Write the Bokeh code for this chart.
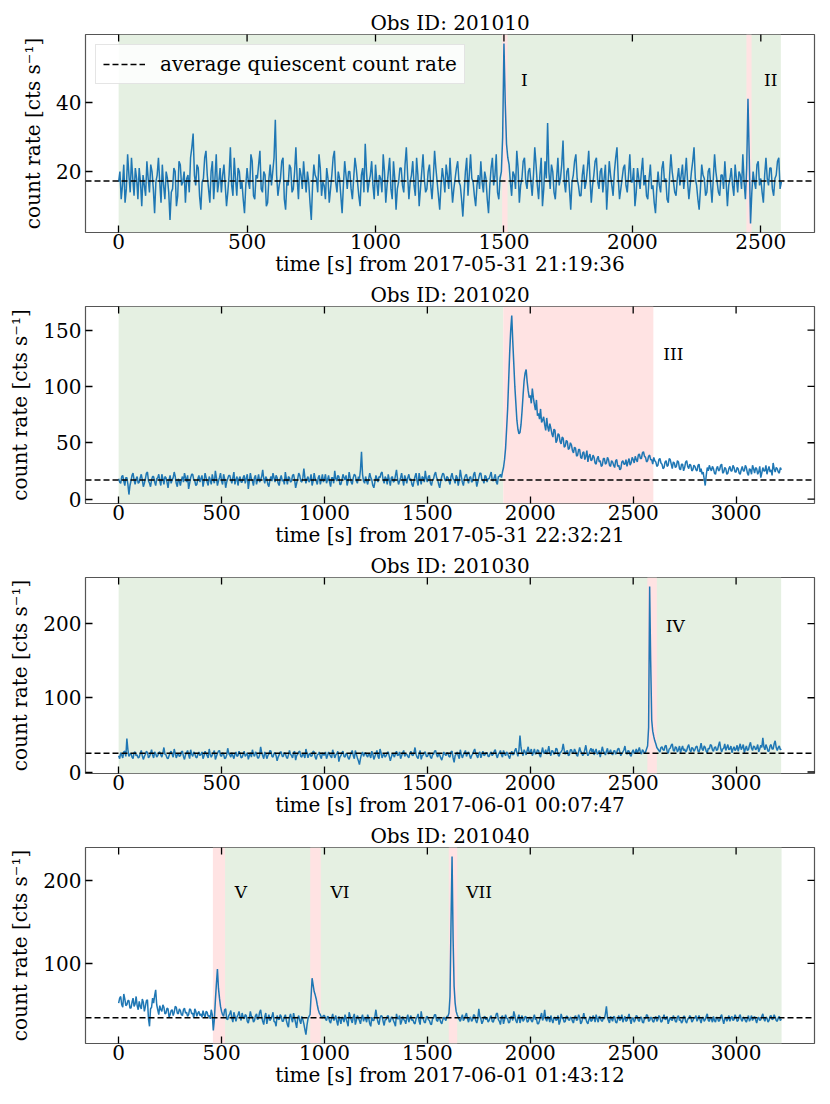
import numpy as np
from bokeh.plotting import figure
from bokeh.layouts import column
from bokeh.models import Range1d, FixedTicker, BoxAnnotation
from bokeh.core.properties import value
from bokeh.embed import file_html
from bokeh.resources import INLINE

BIN = 5  # s per light-curve bin

# ---------------- data ----------------
obs_ids = ["201010", "201020", "201030", "201040"]
starts = ["2017-05-31 21:19:36", "2017-05-31 22:32:21",
          "2017-06-01 00:07:47", "2017-06-01 01:43:12"]

rate_201010 = [
    17,20,12,16,22,11,15,25,19,14,24,18,13,21,18,12,21,17,10,19,
    16,13,23,18,14,22,20,15,8,17,19,24,17,11,22,16,12,20,18,14,
    6,14,15,21,20,10,13,23,22,16,17,20,11,18,19,14,24,27,31,19,
    16,22,21,13,9,17,18,24,26,19,15,11,20,23,12,18,25,14,17,21,
    14,19,22,16,10,14,19,27,16,13,24,18,13,21,20,15,17,12,8,16,
    21,17,15,25,23,13,12,19,18,22,26,15,14,20,19,10,11,18,22,16,
    20,24,35,19,13,16,18,23,24,12,9,17,16,22,21,14,15,20,27,18,
    12,21,19,15,23,18,14,20,17,11,6,16,22,19,18,14,25,21,13,17,
    16,12,21,18,11,15,19,24,26,17,14,20,18,13,8,16,23,19,15,20,
    20,15,12,18,24,21,17,13,10,19,21,14,28,20,14,17,19,23,16,12,
    22,17,13,19,18,14,25,20,11,16,20,24,15,12,23,18,9,15,17,21,
    21,16,14,22,27,19,12,17,19,23,16,13,24,19,10,15,20,25,18,14,
    15,20,22,16,12,18,26,21,17,13,9,16,21,18,14,22,19,15,24,17,
    11,15,18,21,23,17,16,12,7,14,20,24,13,19,25,18,17,13,10,16,
    19,15,23,17,14,20,18,12,8,16,21,24,16,19,25,14,12,18,20,30,
    57,40,28,24,22,17,13,20,19,15,26,21,11,16,18,23,24,17,15,20,
    21,17,13,19,27,22,16,12,19,24,10,15,23,18,34,20,15,22,20,14,
    12,18,24,16,18,22,29,17,14,20,21,15,9,17,19,23,25,18,16,13,
    13,19,22,15,17,21,26,18,11,16,19,23,24,17,15,20,21,14,18,22,
    9,16,23,19,16,13,20,24,27,18,12,15,18,21,22,16,14,19,25,17,
    17,21,10,14,21,18,15,20,24,16,19,13,12,18,22,15,16,11,8,15,
    20,16,14,21,23,17,18,12,11,19,25,20,17,14,13,18,21,16,19,22,
    15,19,24,17,12,16,20,23,27,18,16,12,9,15,22,19,18,13,14,20,
    21,16,11,18,25,20,17,14,13,19,19,15,23,17,10,16,18,21,16,13,
    22,18,14,20,19,15,25,17,12,21,41,24,5,14,20,17,15,22,23,16,
    18,14,11,19,24,18,16,21,21,15,13,18,19,23,24,15,17,
]

rate_201020 = [
    18,15,14,20,21,16,12,19,19,13,4,12,16,21,23,17,13,18,20,14,
    15,19,22,17,11,14,18,23,24,16,14,11,17,20,20,15,12,18,19,22,
    16,12,22,18,13,20,19,15,10,17,21,14,17,19,24,20,14,11,18,16,
    12,17,20,15,23,19,15,21,9,14,19,22,22,17,16,12,13,18,21,15,
    18,21,11,16,23,19,15,12,20,17,13,22,17,14,25,19,12,16,19,23,
    16,13,22,18,10,15,18,21,21,17,14,19,24,13,17,20,12,18,20,15,
    15,19,21,14,18,22,9,16,23,18,16,12,19,21,13,17,22,15,17,20,
    26,18,14,20,18,13,11,17,20,16,23,19,15,21,19,14,12,18,21,16,
    17,13,24,18,13,20,19,15,16,21,22,17,10,14,18,23,21,16,15,19,
    27,19,14,18,20,15,17,22,12,16,23,18,16,13,19,21,13,17,22,15,
    18,22,14,17,21,15,11,19,19,14,25,18,16,21,20,13,13,17,22,19,
    17,21,12,16,24,19,15,13,19,22,21,16,14,20,18,26,42,22,16,14,
    20,16,13,18,23,19,17,12,10,15,21,18,15,20,19,23,24,17,14,20,
    18,13,22,17,12,19,20,15,16,21,26,18,13,16,19,23,17,12,21,18,
    14,19,22,17,18,13,11,16,20,23,16,12,23,18,13,20,19,15,25,18,
    15,20,21,14,12,17,18,22,24,19,17,13,10,16,20,23,22,17,16,20,
    19,16,13,20,23,18,17,14,21,19,12,17,26,20,15,12,18,21,22,17,
    14,19,20,15,16,22,24,18,11,15,19,23,23,17,17,14,21,20,15,18,
    18,21,24,17,16,19,22,15,13,20,20,22,19,24,28,35,45,62,80,105,
    130,150,163,140,120,100,85,70,62,58,59,66,78,92,105,112,115,104,96,90,
    92,85,98,90,84,79,88,74,76,71,80,68,70,73,66,61,72,64,60,67,
    63,58,55,62,61,50,52,58,57,51,49,55,54,46,47,52,51,44,45,50,
    48,43,41,46,45,38,39,44,44,37,36,41,42,35,38,43,33,38,40,34,
    35,39,37,32,31,36,38,33,34,29,30,36,36,31,32,37,35,30,29,34,
    33,30,28,34,35,29,30,26,27,33,34,31,31,35,29,33,36,30,32,37,
    35,32,38,35,33,39,40,36,36,41,42,38,37,33,34,38,39,35,35,31,
    37,34,33,29,30,35,36,32,31,27,28,33,34,29,30,36,35,31,27,33,
    32,28,29,34,33,27,26,31,31,25,28,33,34,29,27,31,30,25,26,30,
    29,26,25,30,31,24,27,22,24,18,12,21,28,25,30,27,25,29,27,23,
    22,27,29,25,26,30,31,23,24,28,27,22,23,27,29,25,25,30,28,24,
    24,28,27,23,22,26,29,25,25,30,28,23,21,27,26,22,30,27,23,28,
    27,22,24,29,19,23,28,25,25,30,22,26,29,24,26,21,32,27,24,28,
    27,24,23,28,26,
]

rate_201030 = [
    22,18,26,23,19,27,28,21,45,30,21,24,25,20,18,26,27,22,23,19,
    20,25,29,22,17,21,24,28,26,19,21,25,30,23,19,27,25,20,22,26,
    27,23,20,26,33,24,23,19,18,22,26,28,24,20,31,25,19,23,25,21,
    22,27,28,21,17,23,26,29,23,18,30,24,21,27,25,20,19,24,27,22,
    24,27,18,22,28,25,22,19,31,24,20,23,26,29,17,21,25,28,29,22,
    21,26,24,18,19,23,32,25,23,20,26,22,18,24,27,21,22,28,25,19,
    20,24,28,21,23,26,17,22,26,20,30,24,21,27,25,19,19,23,34,26,
    22,18,27,24,18,22,24,29,28,21,20,25,26,22,15,20,23,27,27,21,
    21,26,25,20,18,23,29,24,22,19,26,28,16,22,24,27,28,21,20,25,
    23,19,31,25,19,24,25,21,22,28,27,20,17,23,24,27,21,18,26,23,
    23,27,18,22,27,24,21,19,30,25,19,23,25,28,14,20,22,26,28,21,
    20,25,24,19,17,22,26,29,22,18,29,24,19,15,10,18,24,27,21,25,
    26,22,20,25,23,19,28,24,17,21,25,29,21,18,31,26,19,23,24,20,
    22,26,27,21,15,20,25,23,20,25,28,22,23,27,18,22,26,29,21,24,
    24,21,19,25,28,23,22,26,33,24,20,18,25,29,17,22,23,26,27,21,
    21,24,26,20,18,23,24,28,29,23,20,25,23,19,16,21,27,24,22,26,
    25,21,20,27,28,19,13,22,24,27,22,18,30,24,19,23,26,29,21,25,
    27,23,18,22,24,28,31,25,22,19,25,27,19,24,28,22,23,26,26,21,
    21,25,27,22,24,28,30,23,19,24,26,29,23,20,29,25,22,27,25,21,
    18,24,28,23,24,29,32,26,21,30,49,33,26,22,30,27,23,29,34,25,
    27,31,22,26,31,24,25,30,29,23,20,27,33,25,26,30,24,28,35,26,
    22,29,28,24,25,32,31,23,21,26,27,30,38,29,24,27,29,22,23,30,
    30,26,25,31,28,23,21,27,33,28,26,22,24,30,36,27,22,25,29,32,
    27,31,23,28,31,24,25,29,20,27,34,28,26,23,28,32,24,27,30,25,
    23,28,29,24,26,31,32,27,22,25,27,30,35,26,24,29,28,23,21,27,
    30,25,26,31,25,29,33,27,24,30,28,25,27,31,35,60,250,150,70,55,
    48,42,38,33,31,29,27,33,34,30,29,35,36,28,25,31,32,36,38,29,
    28,34,33,27,30,35,26,31,35,29,31,27,29,34,37,30,27,33,32,28,
    30,34,35,28,27,32,39,31,29,35,33,28,26,32,31,37,36,30,28,33,
    34,29,30,36,41,32,27,31,32,38,29,33,37,30,31,35,26,31,34,29,
    31,36,28,33,38,30,33,37,26,31,35,29,30,36,40,32,29,35,34,30,
    32,37,27,31,36,33,46,34,30,37,33,28,28,35,37,31,31,38,42,33,
    29,33,35,30,31,
]

rate_201040 = [
    52,58,60,50,47,63,57,49,50,55,55,46,46,53,58,48,51,60,49,44,
    54,48,45,57,53,42,48,55,56,33,24,45,47,58,52,61,68,50,44,38,
    49,44,42,50,47,39,40,46,45,35,38,43,44,37,41,48,47,40,39,45,
    43,38,37,44,46,40,41,36,38,45,44,39,40,34,45,42,36,40,42,37,
    39,35,43,38,35,42,41,36,37,33,44,38,19,32,55,75,93,70,58,48,
    42,38,36,44,45,33,32,37,39,43,34,29,41,36,30,35,38,42,35,31,
    40,35,33,38,37,30,28,34,42,36,35,29,31,37,39,32,34,41,44,35,
    30,26,36,40,27,33,38,31,33,36,41,30,29,24,37,33,32,38,36,30,
    30,35,38,31,26,23,35,39,33,29,40,34,28,22,34,37,31,27,36,32,
    27,20,14,25,33,36,38,60,82,74,66,62,57,50,44,40,38,35,34,37,
    37,33,31,36,35,30,28,34,39,31,33,37,30,25,36,32,27,35,34,29,
    38,33,29,24,41,36,32,28,35,39,26,31,37,34,31,27,34,38,30,35,
    33,29,38,34,27,24,35,31,31,36,44,35,29,26,34,37,36,30,25,32,
    32,36,37,29,30,35,35,31,28,24,39,33,33,37,26,30,36,32,31,27,
    34,38,29,33,37,31,32,28,27,33,35,39,30,26,42,34,33,29,28,35,
    36,32,31,27,26,33,34,38,38,31,30,35,33,29,27,32,35,33,31,36,
    36,40,60,150,229,130,72,52,42,38,35,32,30,34,38,31,33,37,40,33,
    29,34,35,30,32,38,37,31,28,33,45,36,33,27,30,35,36,32,34,29,
    31,35,37,30,29,33,34,39,40,32,30,26,35,37,27,32,38,34,33,28,
    29,35,36,31,42,37,31,28,34,38,28,33,37,30,32,36,35,29,30,34,
    35,31,29,34,38,32,33,27,27,31,36,40,31,35,44,33,30,36,34,29,
    37,32,28,34,35,31,32,37,26,30,39,34,33,29,30,36,36,32,31,35,
    34,30,28,35,37,31,32,38,35,27,29,34,40,33,33,29,27,32,36,30,
    31,37,34,29,38,33,29,36,35,31,30,34,33,39,48,35,31,28,36,33,
    30,36,35,29,28,33,37,31,33,38,29,33,36,30,31,35,39,32,27,34,
    34,29,32,37,36,31,30,35,35,29,28,34,33,38,37,30,31,35,34,30,
    29,34,36,30,32,37,35,29,30,34,38,32,33,36,27,31,35,32,31,37,
    34,30,29,35,37,31,32,28,30,36,36,30,28,33,33,37,35,29,31,34,
    34,37,30,33,37,32,28,34,35,30,32,36,39,31,30,35,33,29,36,31,
    29,35,34,30,31,36,38,32,27,33,35,30,33,37,30,34,36,31,32,38,
    35,30,31,36,38,32,30,35,34,31,29,33,37,30,33,37,31,34,36,32,
    28,33,35,31,32,36,39,33,30,35,34,29,31,36,37,32,33,38,35,31,
    30,34,36,31,33,
]

rates = [rate_201010, rate_201020, rate_201030, rate_201040]
avg_rate = [17.3, 17.0, 25.2, 34.2]

# quiescent (green) and flare (red) intervals [s]
quiet_spans = [[(0, 2578)], [(0, 1869)], [(0, 3219)], [(517, 3221)]]
flare_spans = [[(1493, 1514), (2444, 2464)], [(1869, 2598)],
               [(2569, 2615)], [(458, 517), (931, 982), (1604, 1645)]]
flare_names = [["I", "II"], ["III"], ["IV"], ["V", "VI", "VII"]]
flare_label_x = [[1579, 2539], [2695], [2705], [594, 1075, 1751]]
flare_label_y = [[46.6, 46.6], [129], [197], [186.5, 186.5, 186.5]]

x_ticks = [[0, 500, 1000, 1500, 2000, 2500],
           [0, 500, 1000, 1500, 2000, 2500, 3000],
           [0, 500, 1000, 1500, 2000, 2500, 3000],
           [0, 500, 1000, 1500, 2000, 2500, 3000]]
y_ticks = [[20, 40], [0, 50, 100, 150], [0, 100, 200], [100, 200]]

# ---------------- layout / style ----------------
FONT = "DejaVu Serif"
FS = "20px"
heights = [280, 271, 270, 270]
tops = [34, 24, 24, 24]
BLUE = "#1f77b4"
GREEN = "#e5f0e2"
PINK = "#ffe3e3"
SPINE = "#555555"
TICK_LEN = 7

figs = []
for i in range(4):
    y = np.asarray(rates[i], dtype=float)
    t = np.arange(len(y)) * BIN
    tmax = t[-1]
    ymin, ymax = y.min(), y.max()
    yspan = ymax - ymin
    xr = Range1d(-0.05 * tmax, 1.05 * tmax)
    yr = Range1d(ymin - 0.05 * yspan, ymax + 0.05 * yspan)

    p = figure(width=822, height=heights[i], x_range=xr, y_range=yr,
               output_backend="svg", toolbar_location=None,
               min_border_left=85, min_border_right=8,
               min_border_top=tops[i], min_border_bottom=48)
    p.title.text = "Obs ID: " + obs_ids[i]
    p.title.align = "center"
    p.title.text_font = FONT
    p.title.text_font_size = FS
    p.title.text_font_style = "normal"
    p.title.text_color = "black"
    p.title.standoff = 0
    p.xgrid.visible = False
    p.ygrid.visible = False
    p.outline_line_color = SPINE
    p.outline_line_width = 1.2
    p.outline_line_alpha = 1
    p.background_fill_color = "white"
    p.border_fill_color = "white"

    for (a, b) in quiet_spans[i]:
        p.add_layout(BoxAnnotation(left=a, right=b, fill_color=GREEN,
                                   fill_alpha=1, line_color=None,
                                   level="underlay"))
    for (a, b) in flare_spans[i]:
        p.add_layout(BoxAnnotation(left=a, right=b, fill_color=PINK,
                                   fill_alpha=1, line_color=None,
                                   level="underlay"))

    p.line(t, y, line_color=BLUE, line_width=1.5)

    xs = [xr.start, xr.end]
    kw = dict(line_color="black", line_width=1.5, line_dash="6 3")
    if i == 0:
        p.line(xs, [avg_rate[i]] * 2, legend_label="average quiescent count rate", **kw)
    else:
        p.line(xs, [avg_rate[i]] * 2, **kw)

    p.text(x=flare_label_x[i], y=flare_label_y[i], text=flare_names[i],
           text_font=value(FONT), text_font_size="17px",
           text_align="center", text_baseline="middle", text_color="black")

    # mirrored inward tick marks on top and right edges (half clipped by frame)
    xt = x_ticks[i]
    yt = y_ticks[i]
    p.scatter(xt, [yr.end] * len(xt), marker="dash", angle=np.pi / 2,
              size=2 * TICK_LEN, line_color="black", line_width=1.3)
    p.scatter([xr.end] * len(yt), yt, marker="dash",
              size=2 * TICK_LEN, line_color="black", line_width=1.3)

    # main axes
    for ax, ticks in ((p.xaxis[0], xt), (p.yaxis[0], yt)):
        ax.ticker = FixedTicker(ticks=ticks)
        ax.minor_tick_line_color = None
        ax.major_tick_in = TICK_LEN
        ax.major_tick_out = 0
        ax.major_tick_line_color = "black"
        ax.major_tick_line_width = 1.3
        ax.axis_line_color = None
        ax.major_label_text_font = FONT
        ax.major_label_text_font_size = FS
        ax.major_label_text_color = "black"
        ax.axis_label_text_font = FONT
        ax.axis_label_text_font_size = FS
        ax.axis_label_text_font_style = "normal"
        ax.axis_label_text_color = "black"
    p.xaxis[0].major_label_standoff = 1
    p.xaxis[0].axis_label_standoff = 0
    p.yaxis[0].major_label_standoff = 4
    p.yaxis[0].axis_label_standoff = 8
    p.xaxis[0].axis_label = "time [s] from " + starts[i]
    p.yaxis[0].axis_label = "count rate [cts s\u207b\u00b9]"

    if i == 0:
        lg = p.legend[0]
        lg.location = "top_left"
        lg.margin = 10
        lg.padding = 7
        lg.spacing = 0
        lg.glyph_width = 42
        lg.label_standoff = 15
        lg.label_text_font = FONT
        lg.label_text_font_size = FS
        lg.label_text_color = "black"
        lg.border_line_color = "#cccccc"
        lg.border_line_width = 1
        lg.background_fill_alpha = 0.85

    figs.append(p)

layout = column(*figs, spacing=0)
open("out.html", "w").write(file_html(layout, INLINE))
